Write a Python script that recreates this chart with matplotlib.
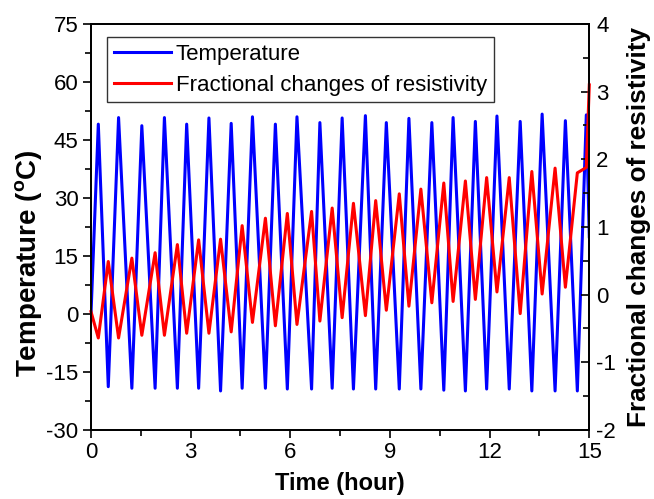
import matplotlib
matplotlib.use('Agg')
import matplotlib.pyplot as plt
import numpy as np

plt.rcParams['font.family'] = ['Liberation Sans', 'DejaVu Sans']
plt.rcParams['mathtext.fontset'] = 'custom'
plt.rcParams['mathtext.rm'] = 'Liberation Sans'
plt.rcParams['mathtext.bf'] = 'Liberation Sans:bold'
plt.rcParams['axes.unicode_minus'] = False

# time of each turning point (hour)
time = [0, 0.22, 0.52, 0.83, 1.23, 1.53, 1.93, 2.21, 2.60, 2.88, 3.24,
        3.55, 3.90, 4.22, 4.55, 4.86, 5.25, 5.55, 5.91, 6.20, 6.64,
        6.89, 7.26, 7.56, 7.90, 8.26, 8.57, 8.89, 9.28, 9.57, 9.93,
        10.26, 10.62, 10.90, 11.27, 11.57, 11.91, 12.22, 12.59, 12.92, 13.27,
        13.58, 13.97, 14.28, 14.64, 14.91, 15.0]

# temperature (C)
temperature = [0, 49.1, -18.8, 50.8, -19.2, 48.7, -19.2, 50.8, -19.2, 49.1, -19.2,
               50.7, -19.9, 49.3, -19.2, 51.0, -19.2, 49.1, -19.4, 51.0, -19.4,
               49.5, -19.2, 50.7, -19.4, 51.3, -19.4, 49.5, -19.4, 50.6, -19.4,
               49.5, -19.7, 50.8, -19.9, 49.8, -19.4, 51.2, -19.4, 49.8, -19.9,
               51.7, -19.9, 50.0, -19.9, 51.5, 20.0]

# fractional changes of resistivity
resistivity = [-0.25, -0.64, 0.49, -0.64, 0.54, -0.60, 0.62, -0.60, 0.74, -0.57, 0.81,
               -0.57, 0.82, -0.55, 1.02, -0.41, 1.13, -0.46, 1.20, -0.44, 1.23,
               -0.39, 1.28, -0.34, 1.35, -0.31, 1.39, -0.23, 1.49, -0.17, 1.56,
               -0.12, 1.65, -0.10, 1.68, -0.07, 1.73, 0.04, 1.73, -0.28, 1.82,
               0.01, 1.87, 0.11, 1.80, 1.88, 3.10]

fig = plt.figure(figsize=(6.54, 4.99), dpi=100)
ax = fig.add_axes([91/654, 1-430/499, (589.3-91)/654, (430-24)/499])
ax2 = ax.twinx()

l1, = ax.plot(time, temperature, color='#0000ff', lw=2.2, label='Temperature')
l2, = ax2.plot(time, resistivity, color='#ff0000', lw=2.2, clip_on=False,
               label='Fractional changes of resistivity')

ax.set_xlim(0, 15)
ax.set_ylim(-30, 75)
ax2.set_ylim(-2, 4)
ax.set_xticks(np.arange(0, 16, 3))
ax.set_xticks(np.arange(1.5, 15, 3), minor=True)
ax.set_yticks(np.arange(-30, 76, 15))
ax.set_yticks(np.arange(-22.5, 75, 15), minor=True)
ax2.set_yticks(np.arange(-2, 5, 1))
ax2.set_yticks(np.arange(-1.5, 4, 1), minor=True)

ax.tick_params(axis='both', which='major', direction='out', length=6, width=1.2,
               labelsize=16, top=False, pad=3)
ax.tick_params(axis='both', which='minor', direction='out', length=4, width=1.2)
ax2.tick_params(axis='y', which='major', direction='in', length=6, width=1.2,
                labelsize=16, pad=5)
ax2.tick_params(axis='y', which='minor', direction='in', length=4, width=1.2)

for sp in ax.spines.values():
    sp.set_linewidth(1.3)
for sp in ax2.spines.values():
    sp.set_linewidth(1.3)

ax.set_xlabel('Time (hour)', fontsize=17, fontweight='bold', labelpad=6)
ax.set_ylabel(r'Temperature ($\mathbf{^o}$C)', fontsize=20, fontweight='bold')
ax.yaxis.set_label_coords(-0.095, 0.41)
ax2.set_ylabel('Fractional changes of resistivity', fontsize=18.8, fontweight='bold',
               labelpad=8)

leg = ax2.legend(handles=[l1, l2], loc='upper left', bbox_to_anchor=(0.032, 0.968),
                 fontsize=16, frameon=True, fancybox=False, edgecolor='black',
                 handlelength=2.6, borderaxespad=0, labelspacing=0.45,
                 borderpad=0.3, handletextpad=0.2)
leg.get_frame().set_linewidth(1.0)

fig.savefig('out.png', dpi=100)
